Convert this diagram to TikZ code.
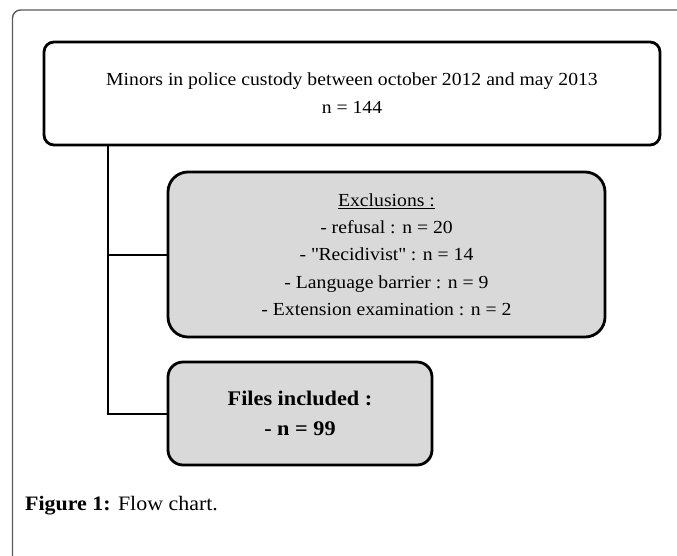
\documentclass[tikz,border=0pt]{standalone}
\usepackage{fontspec}
\setmainfont{Liberation Serif}[FakeStretch=1.07]
\begin{document}
\begin{tikzpicture}[x=1pt,y=-1pt,
  boxbase/.style={draw=black, line width=2.8pt, align=center, inner sep=0pt},
  topbox/.style={boxbase, fill=white, rounded corners=10pt, minimum width=616pt, minimum height=103pt, font=\fontsize{18.4}{28}\selectfont},
  graybox/.style={boxbase, fill={rgb,255:red,217;green,217;blue,217}},
  exclbox/.style={graybox, rounded corners=20pt, minimum width=437pt, minimum height=165pt, font=\fontsize{18.4}{27.3}\selectfont},
  filebox/.style={graybox, rounded corners=15pt, minimum width=264pt, minimum height=103pt, font=\fontsize{20.8}{30}\selectfont\bfseries},
  conn/.style={draw=black, line width=2pt},
  frame/.style={draw={rgb,255:red,90;green,90;blue,90}, line width=1.4pt, rounded corners=8pt}
]
\useasboundingbox (0,0) rectangle (677,555);
\begin{scope}
\clip (0,0) rectangle (677,555);
\draw[frame] (12.5,10) rectangle (720,620);
\end{scope}
\node[topbox] (top) at (352,93.5) {Minors in police custody between october 2012 and may 2013\\ n = 144};
\node[exclbox] (excl) at (386.5,254.5) {\underline{Exclusions :}\\ - refusal : n = 20\\ - \textquotedbl Recidivist\textquotedbl{} : n = 14\\ - Language barrier : n = 9\\ - Extension examination : n = 2};
\node[filebox] (files) at (300,413.5) {Files included :\\ - n = 99};
\coordinate (j1) at (108,413.5);
\draw[conn] (top.south -| j1) -- (j1) -- (files.west);
\draw[conn] (j1 |- excl.west) -- (excl.west);
\node[anchor=base west, inner sep=0pt, font=\fontsize{20.5}{22}\selectfont] (cap) at (25,510) {\textbf{Figure 1:} Flow chart.};
\end{tikzpicture}
\end{document}
